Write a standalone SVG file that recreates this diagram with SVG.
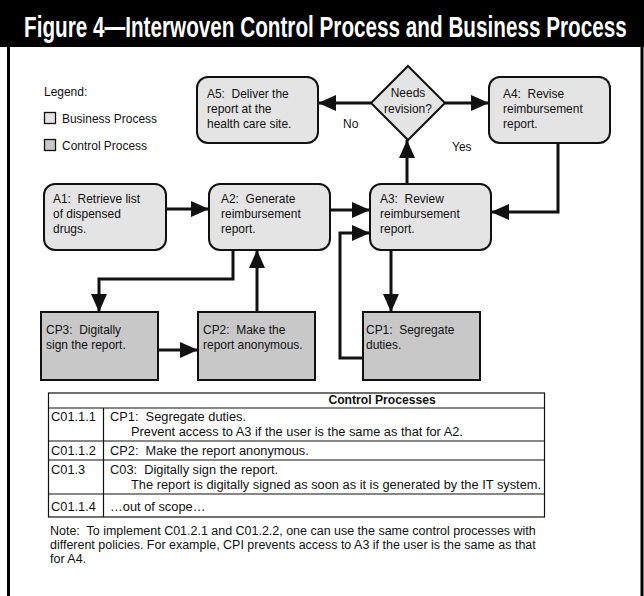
<svg xmlns="http://www.w3.org/2000/svg" width="644" height="596" viewBox="0 0 644 596" xml:space="preserve">
<style>
  text { font-family: "Liberation Sans", Arial, sans-serif; fill: #111; white-space: pre; }
  .t { font-size: 13px; }
  .tb { font-size: 13.5px; }
  .nt { font-size: 12px; }
  .bp { fill: #e4e4e4; stroke: #111; stroke-width: 2; }
  .cp { fill: #c8c8c8; stroke: #111; stroke-width: 2; }
  .ln { fill: none; stroke: #111; stroke-width: 3; marker-end: url(#ah); }
  .tl { fill: none; stroke: #111; stroke-width: 1.2; }
</style>
<defs>
  <marker id="ah" markerUnits="userSpaceOnUse" markerWidth="18" markerHeight="16" refX="18" refY="8" orient="auto">
    <path d="M0,0 L18,8 L0,16 z" fill="#111"/>
  </marker>
</defs>
<rect width="644" height="596" fill="#fff"/>
<rect x="0" y="0" width="644" height="47" fill="#000"/>
<text font-size="29" font-weight="bold" style="fill:#fff" transform="translate(24,37) scale(0.714,1)">Figure 4—Interwoven Control Process and Business Process</text>
<line x1="8.5" y1="46" x2="8.5" y2="596" stroke="#000" stroke-width="3"/>
<line x1="642" y1="46" x2="642" y2="596" stroke="#000" stroke-width="3"/>

<g id="legend">
  <text class="t" transform="translate(44,96) scale(0.92,1)">Legend:</text>
  <rect x="44.5" y="112.5" width="11" height="11" fill="#e4e4e4" stroke="#111" stroke-width="1.3"/>
  <text class="t" transform="translate(62,123) scale(0.92,1)">Business Process</text>
  <rect x="44.5" y="139.5" width="11" height="11" fill="#c8c8c8" stroke="#111" stroke-width="1.3"/>
  <text class="t" transform="translate(62,150) scale(0.92,1)">Control Process</text>
</g>

<g id="connectors">
  <path class="ln" d="M166,209 H209"/>
  <path class="ln" d="M330,210 H370"/>
  <path class="ln" d="M407,184 V140"/>
  <path class="ln" d="M371,103 H318"/>
  <path class="ln" d="M445,103 H489"/>
  <path class="ln" d="M558,143 V212 H491"/>
  <path class="ln" d="M233,250 V279 H99 V312"/>
  <path class="ln" d="M158,350 H198"/>
  <path class="ln" d="M257,312 V250"/>
  <path class="ln" d="M391,250 V312"/>
  <path class="ln" d="M363,358 H340 V233 H370"/>
  <text class="t" transform="translate(343,128) scale(0.92,1)">No</text>
  <text class="t" transform="translate(452,151) scale(0.92,1)">Yes</text>
</g>

<g id="A5">
  <rect class="bp" x="197" y="77" width="121" height="66" rx="11"/>
  <text class="t" transform="translate(207,98) scale(0.92,1)"><tspan x="0" y="0">A5:  Deliver the</tspan><tspan x="0" y="15">report at the</tspan><tspan x="0" y="30">health care site.</tspan></text>
</g>
<g id="decision">
  <polygon class="bp" points="408,66 445,103 408,140 371,103"/>
  <text class="t" text-anchor="middle" transform="translate(408,97) scale(0.92,1)"><tspan x="0" y="0">Needs</tspan><tspan x="0" y="16">revision?</tspan></text>
</g>
<g id="A4">
  <rect class="bp" x="489" y="77" width="121" height="66" rx="11"/>
  <text class="t" transform="translate(503,98) scale(0.92,1)"><tspan x="0" y="0">A4:  Revise</tspan><tspan x="0" y="15">reimbursement</tspan><tspan x="0" y="30">report.</tspan></text>
</g>
<g id="A1">
  <rect class="bp" x="44" y="184" width="122" height="66" rx="11"/>
  <text class="t" transform="translate(53,203) scale(0.92,1)"><tspan x="0" y="0">A1:  Retrieve list</tspan><tspan x="0" y="15">of dispensed</tspan><tspan x="0" y="30">drugs.</tspan></text>
</g>
<g id="A2">
  <rect class="bp" x="209" y="184" width="121" height="66" rx="11"/>
  <text class="t" transform="translate(221,203) scale(0.92,1)"><tspan x="0" y="0">A2:  Generate</tspan><tspan x="0" y="15">reimbursement</tspan><tspan x="0" y="30">report.</tspan></text>
</g>
<g id="A3">
  <rect class="bp" x="370" y="184" width="121" height="66" rx="11"/>
  <text class="t" transform="translate(380,203) scale(0.92,1)"><tspan x="0" y="0">A3:  Review</tspan><tspan x="0" y="15">reimbursement</tspan><tspan x="0" y="30">report.</tspan></text>
</g>
<g id="CP3">
  <rect class="cp" x="41" y="312" width="117" height="68"/>
  <text class="t" transform="translate(46,334) scale(0.92,1)"><tspan x="0" y="0">CP3:  Digitally</tspan><tspan x="0" y="15">sign the report.</tspan></text>
</g>
<g id="CP2">
  <rect class="cp" x="198" y="312" width="117" height="68"/>
  <text class="t" transform="translate(203,334) scale(0.92,1)"><tspan x="0" y="0">CP2:  Make the</tspan><tspan x="0" y="15">report anonymous.</tspan></text>
</g>
<g id="CP1">
  <rect class="cp" x="363" y="312" width="117" height="68"/>
  <text class="t" transform="translate(366,334) scale(0.92,1)"><tspan x="0" y="0">CP1:  Segregate</tspan><tspan x="0" y="15">duties.</tspan></text>
</g>

<g id="table">
  <rect class="tl" x="48.5" y="393" width="496" height="124"/>
  <line class="tl" x1="48.5" y1="408" x2="544.5" y2="408"/>
  <line class="tl" x1="48.5" y1="441" x2="544.5" y2="441"/>
  <line class="tl" x1="48.5" y1="460" x2="544.5" y2="460"/>
  <line class="tl" x1="48.5" y1="494" x2="544.5" y2="494"/>
  <line class="tl" x1="103.5" y1="408" x2="103.5" y2="517"/>
  <text class="tb" font-weight="bold" text-anchor="middle" transform="translate(382,404) scale(0.9,1)">Control Processes</text>
  <text class="tb" transform="translate(51,421) scale(0.95,1)">C01.1.1</text>
  <text class="tb" transform="translate(110,421) scale(0.95,1)">CP1:  Segregate duties.</text>
  <text class="tb" transform="translate(131,436) scale(0.95,1)">Prevent access to A3 if the user is the same as that for A2.</text>
  <text class="tb" transform="translate(51,455) scale(0.95,1)">C01.1.2</text>
  <text class="tb" transform="translate(110,455) scale(0.95,1)">CP2:  Make the report anonymous.</text>
  <text class="tb" transform="translate(51,474) scale(0.95,1)">C01.3</text>
  <text class="tb" transform="translate(110,474) scale(0.95,1)">C03:  Digitally sign the report.</text>
  <text class="tb" transform="translate(131,489) scale(0.95,1)">The report is digitally signed as soon as it is generated by the IT system.</text>
  <text class="tb" transform="translate(51,511) scale(0.95,1)">C01.1.4</text>
  <text class="tb" transform="translate(110,511) scale(0.95,1)">…out of scope…</text>
</g>

<g id="note">
  <text class="nt" transform="translate(50,535) scale(1.04,1)"><tspan x="0" y="0">Note:  To implement C01.2.1 and C01.2.2, one can use the same control processes with</tspan><tspan x="0" y="14">different policies. For example, CPI prevents access to A3 if the user is the same as that</tspan><tspan x="0" y="28">for A4.</tspan></text>
</g>
</svg>
